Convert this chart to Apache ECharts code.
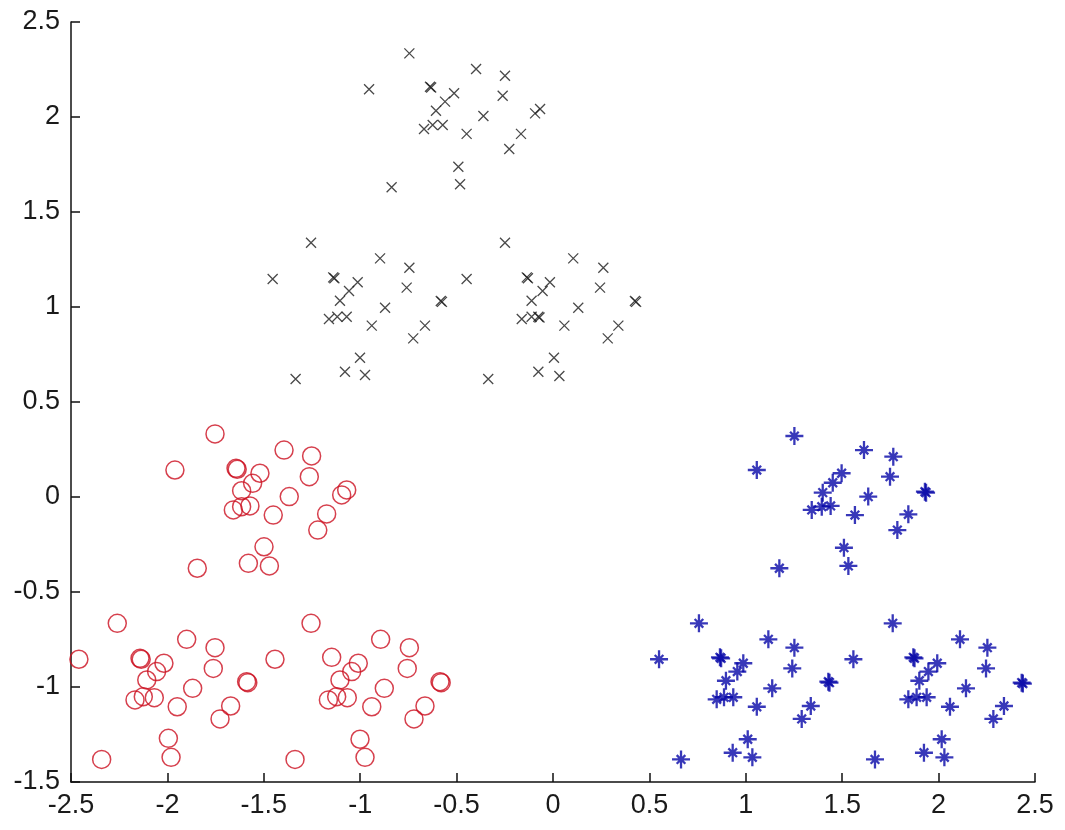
<!DOCTYPE html>
<html>
<head>
<meta charset="utf-8">
<script src="https://cdn.jsdelivr.net/npm/echarts@6/dist/echarts.min.js"></script>
<style>
html,body{margin:0;padding:0;background:#fff;}
#chart{width:1065px;height:830px;}
</style>
</head>
<body>
<div id="chart"></div>
<script>
// ---- data ----
const crossTop = [[-0.745,2.335],[-0.399,2.253],[-0.249,2.217],[-0.954,2.146],[-0.638,2.159],[-0.632,2.155],[-0.513,2.125],[-0.560,2.081],[-0.261,2.112],[-0.607,2.033],[-0.067,2.042],[-0.093,2.019],[-0.361,2.005],[-0.669,1.937],[-0.624,1.958],[-0.572,1.958],[-0.448,1.911],[-0.166,1.911],[-0.227,1.832],[-0.491,1.738],[-0.482,1.646],[-0.837,1.630]];
const crossLeft = [[-1.255,1.338],[-0.897,1.256],[-0.745,1.207],[-1.454,1.147],[-1.140,1.156],[-1.134,1.151],[-1.013,1.130],[-1.058,1.084],[-0.759,1.102],[-1.105,1.033],[-0.582,1.032],[-0.576,1.027],[-0.871,0.996],[-1.162,0.937],[-1.119,0.949],[-1.070,0.949],[-0.940,0.902],[-0.664,0.902],[-0.725,0.835],[-1.001,0.733],[-1.079,0.659],[-0.975,0.642],[-1.335,0.621]];
const crossRight = [[-0.249,1.338],[0.105,1.256],[0.261,1.207],[-0.448,1.147],[-0.136,1.156],[-0.130,1.151],[-0.016,1.130],[-0.054,1.084],[0.244,1.102],[-0.111,1.033],[0.425,1.032],[0.431,1.027],[0.131,0.996],[-0.162,0.937],[-0.111,0.949],[-0.076,0.949],[-0.070,0.945],[0.059,0.902],[0.339,0.902],[0.284,0.835],[0.005,0.733],[-0.076,0.659],[0.033,0.637],[-0.336,0.621]];

const circleUpper = [[-1.753,0.332],[-1.395,0.247],[-1.252,0.216],[-1.961,0.142],[-1.644,0.151],[-1.638,0.146],[-1.520,0.125],[-1.558,0.072],[-1.264,0.107],[-1.615,0.033],[-1.070,0.037],[-1.096,0.011],[-1.368,0.002],[-1.658,-0.068],[-1.615,-0.051],[-1.572,-0.047],[-1.451,-0.095],[-1.174,-0.089],[-1.220,-0.174],[-1.499,-0.262],[-1.471,-0.363],[-1.580,-0.349],[-1.845,-0.375]];
const circleLowerLeft = [[-2.260,-0.665],[-2.459,-0.854],[-2.142,-0.849],[-2.136,-0.854],[-2.018,-0.875],[-1.900,-0.749],[-1.753,-0.793],[-1.762,-0.902],[-2.056,-0.919],[-2.107,-0.963],[-1.869,-1.007],[-2.168,-1.068],[-2.125,-1.051],[-2.068,-1.056],[-1.949,-1.104],[-1.672,-1.100],[-1.727,-1.168],[-1.995,-1.270],[-1.981,-1.370],[-2.341,-1.381],[-1.589,-0.972],[-1.583,-0.977]];
const circleLowerRight = [[-1.255,-0.665],[-1.442,-0.854],[-1.148,-0.844],[-1.010,-0.875],[-0.894,-0.749],[-0.745,-0.793],[-0.756,-0.902],[-1.044,-0.919],[-1.105,-0.963],[-0.875,-1.007],[-1.165,-1.068],[-1.122,-1.051],[-1.067,-1.056],[-0.940,-1.104],[-0.664,-1.100],[-0.721,-1.168],[-1.001,-1.275],[-0.975,-1.370],[-1.338,-1.381],[-0.586,-0.972],[-0.580,-0.977]];

const starUpper = [[1.252,0.321],[1.613,0.247],[1.765,0.212],[1.057,0.142],[1.497,0.125],[1.451,0.075],[1.748,0.107],[1.399,0.023],[1.929,0.028],[1.935,0.023],[1.635,0.002],[1.342,-0.068],[1.394,-0.051],[1.440,-0.047],[1.566,-0.095],[1.843,-0.091],[1.786,-0.174],[1.509,-0.267],[1.532,-0.363],[1.174,-0.375]];
const starLowerLeft = [[0.757,-0.665],[0.550,-0.854],[0.866,-0.844],[0.872,-0.849],[0.987,-0.875],[1.117,-0.749],[1.252,-0.793],[1.241,-0.902],[0.956,-0.919],[0.897,-0.967],[1.137,-1.007],[0.849,-1.065],[0.887,-1.054],[0.935,-1.054],[1.057,-1.104],[1.337,-1.100],[1.290,-1.168],[1.010,-1.275],[1.034,-1.370],[0.664,-1.381],[0.932,-1.346],[1.428,-0.972],[1.434,-0.977]];
const starLowerRight = [[1.762,-0.665],[1.558,-0.854],[1.869,-0.844],[1.875,-0.849],[1.993,-0.875],[2.111,-0.749],[2.253,-0.793],[2.246,-0.902],[1.947,-0.919],[1.900,-0.967],[2.142,-1.007],[1.843,-1.065],[1.886,-1.054],[1.938,-1.054],[2.059,-1.104],[2.339,-1.100],[2.284,-1.168],[2.016,-1.275],[2.030,-1.370],[1.670,-1.381],[1.924,-1.346],[2.431,-0.977],[2.437,-0.982]];

const xRange = [-2.5, 2.5];
const yRange = [-1.5, 2.5];
const tickStep = 0.5;

// ---- chart ----
const chart = echarts.init(document.getElementById('chart'), null, {renderer: 'canvas'});
const labelFont = {color: '#1a1a1a', fontSize: 27, fontFamily: 'Liberation Sans, Arial, sans-serif'};
const axisCommon = {
  type: 'value',
  interval: tickStep,
  axisLine: {show: true, onZero: false, lineStyle: {color: '#111111', width: 1.5}},
  axisTick: {show: true, inside: true, length: 9, lineStyle: {color: '#111111', width: 1.5}},
  splitLine: {show: false}
};
const crossPath = 'path://M0,0L10,10M10,0L0,10';
const starPath = 'path://M5,0L5,10M0,5L10,5M2.6,2.6L7.4,7.4M7.4,2.6L2.6,7.4';

chart.setOption({
  animation: false,
  backgroundColor: '#ffffff',
  grid: {left: 71, right: 30, top: 22, bottom: 48, containLabel: false},
  xAxis: Object.assign({}, axisCommon, {
    min: xRange[0], max: xRange[1],
    axisLabel: Object.assign({margin: 10}, labelFont)
  }),
  yAxis: Object.assign({}, axisCommon, {
    min: yRange[0], max: yRange[1],
    axisLabel: Object.assign({margin: 11}, labelFont)
  }),
  series: [
    {
      type: 'scatter', name: 'cross', clip: false, silent: true,
      data: crossTop.concat(crossLeft, crossRight),
      symbol: crossPath, symbolSize: 10,
      itemStyle: {color: 'rgba(0,0,0,0)', borderColor: '#1c1c1c', borderWidth: 1.3}
    },
    {
      type: 'scatter', name: 'circle', clip: false, silent: true,
      data: circleUpper.concat(circleLowerLeft, circleLowerRight),
      symbol: 'circle', symbolSize: 18,
      itemStyle: {color: 'rgba(0,0,0,0)', borderColor: '#cc1020', borderWidth: 1.5}
    },
    {
      type: 'scatter', name: 'star', clip: false, silent: true,
      data: starUpper.concat(starLowerLeft, starLowerRight),
      symbol: starPath, symbolSize: 18,
      itemStyle: {color: 'rgba(0,0,0,0)', borderColor: '#0606a8', borderWidth: 2.3}
    }
  ]
});
</script>
</body>
</html>
